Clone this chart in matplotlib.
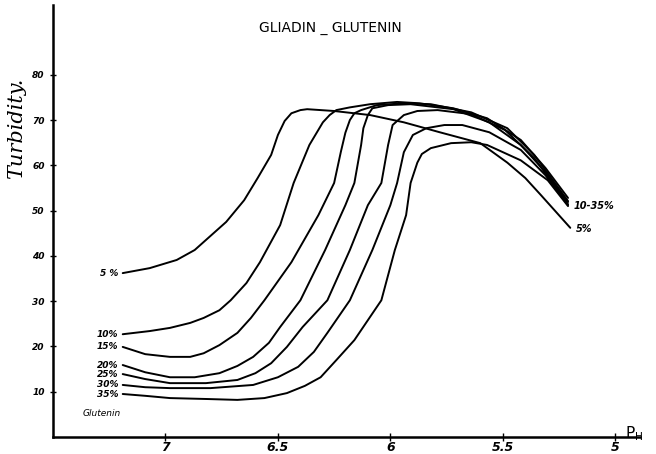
import matplotlib
matplotlib.use("Agg")
import matplotlib.pyplot as plt

# pH / turbidity readings for each glutenin concentration
ph_5 = [7.19, 7.07, 6.95, 6.87, 6.73, 6.65, 6.59, 6.53, 6.50, 6.47, 6.44, 6.40, 6.37, 6.25, 6.09,
        5.94, 5.78, 5.60, 5.48, 5.40, 5.33, 5.20]
t_5 = [36.2, 37.3, 39.1, 41.3, 47.5, 52.3, 57.2, 62.3, 66.7, 69.8, 71.5, 72.2, 72.4, 72.0, 71.1,
       69.5, 67.3, 64.9, 60.6, 57.2, 53.4, 46.2]

ph_10 = [7.19, 7.07, 6.98, 6.89, 6.83, 6.76, 6.71, 6.64, 6.58, 6.49, 6.43, 6.36, 6.30, 6.27, 6.24,
         6.18, 6.09, 5.97, 5.87, 5.72, 5.57, 5.42, 5.31, 5.21]
t_10 = [22.7, 23.4, 24.1, 25.2, 26.3, 28.0, 30.2, 34.0, 38.6, 46.8, 56.1, 64.5, 69.5, 71.1, 72.2,
        72.8, 73.5, 74.0, 73.7, 72.6, 70.4, 65.6, 59.4, 52.8]

ph_15 = [7.19, 7.09, 6.98, 6.89, 6.83, 6.76, 6.68, 6.62, 6.56, 6.44, 6.32, 6.25, 6.22, 6.20, 6.18,
         6.16, 6.13, 6.06, 5.94, 5.82, 5.64, 5.48, 5.36, 5.21]
t_15 = [19.9, 18.3, 17.7, 17.7, 18.5, 20.3, 23.0, 26.3, 30.2, 38.6, 49.0, 56.1, 63.0, 67.2, 70.0,
        71.5, 72.2, 73.3, 73.7, 73.5, 71.7, 68.2, 62.3, 52.1]

ph_20 = [7.19, 7.09, 6.98, 6.87, 6.76, 6.68, 6.61, 6.54, 6.49, 6.40, 6.29, 6.20, 6.16, 6.13, 6.12,
         6.10, 6.08, 6.01, 5.91, 5.72, 5.56, 5.42, 5.31, 5.21]
t_20 = [15.9, 14.3, 13.2, 13.2, 14.1, 15.7, 17.7, 20.8, 24.3, 30.2, 41.3, 51.2, 56.1, 64.5, 68.2,
        71.1, 72.6, 73.3, 73.5, 72.4, 69.5, 64.5, 58.5, 51.9]

ph_25 = [7.19, 7.09, 6.98, 6.82, 6.68, 6.60, 6.53, 6.46, 6.39, 6.28, 6.18, 6.10, 6.04, 6.01, 5.99,
         5.94, 5.88, 5.79, 5.64, 5.49, 5.36, 5.21]
t_25 = [13.9, 12.8, 11.9, 11.9, 12.6, 14.1, 16.3, 19.9, 24.3, 30.2, 41.3, 51.2, 56.1, 64.5, 68.9,
        71.1, 72.0, 72.2, 71.3, 67.8, 61.6, 51.4]

ph_30 = [7.19, 7.09, 6.98, 6.80, 6.61, 6.50, 6.41, 6.34, 6.28, 6.18, 6.08, 6.00, 5.97, 5.94, 5.90,
         5.84, 5.76, 5.68, 5.56, 5.42, 5.31, 5.21]
t_30 = [11.5, 11.0, 10.8, 10.8, 11.5, 13.2, 15.5, 18.8, 23.0, 30.2, 41.3, 51.2, 56.1, 62.9, 66.7,
        68.2, 68.9, 68.9, 67.3, 63.4, 57.8, 51.2]

ph_35 = [7.19, 7.09, 6.98, 6.82, 6.68, 6.56, 6.46, 6.38, 6.31, 6.24, 6.16, 6.10, 6.04, 5.98, 5.93,
         5.91, 5.88, 5.86, 5.82, 5.73, 5.64, 5.57, 5.42, 5.30, 5.21]
t_35 = [9.5, 9.1, 8.6, 8.4, 8.2, 8.6, 9.7, 11.3, 13.2, 17.0, 21.4, 25.8, 30.2, 41.3, 49.0,
        56.1, 60.6, 62.5, 63.8, 64.9, 65.1, 64.5, 61.1, 56.7, 51.0]

curves = [
    (ph_5, t_5, "5 %"),
    (ph_10, t_10, "10%"),
    (ph_15, t_15, "15%"),
    (ph_20, t_20, "20%"),
    (ph_25, t_25, "25%"),
    (ph_30, t_30, "30%"),
    (ph_35, t_35, "35%"),
]

x_ticks = [7, 6.5, 6, 5.5, 5]
x_tick_labels = ["7", "6.5", "6", "5.5", "5"]
y_ticks = [10, 20, 30, 40, 50, 60, 70, 80]
y_tick_labels = ["10", "20", "30", "40", "50", "60", "70", "80"]

fig = plt.figure(figsize=(6.56, 4.54), dpi=100)
ax = fig.add_axes([0.0808, 0.0374, 0.8948, 0.9515])

for ph, t, lab in curves:
    ax.plot(ph, t, color="black", lw=1.4, solid_joinstyle="round", solid_capstyle="round")
    ax.annotate(lab, (ph[0], t[0]), xytext=(-3, 0), textcoords="offset points",
                ha="right", va="center", fontsize=6.5, style="italic", fontweight="bold")

# right-hand end labels
ax.annotate("10-35%", (ph_10[-1], t_25[-1]), xytext=(4, -1), textcoords="offset points",
            ha="left", va="center", fontsize=7, style="italic", fontweight="bold")
ax.annotate("5%", (ph_5[-1], t_5[-1]), xytext=(4, -1), textcoords="offset points",
            ha="left", va="center", fontsize=7, style="italic", fontweight="bold")

ax.text(7.37, 5.3, "Glutenin", fontsize=6.5, style="italic", ha="left", va="center")

ax.set_xlim(7.5, 4.89)
ax.set_ylim(0, 95.4)

ax.set_xticks(x_ticks)
ax.set_xticklabels(x_tick_labels, fontsize=9, fontweight="bold", style="italic")
ax.set_yticks(y_ticks)
ax.set_yticklabels(y_tick_labels, fontsize=6.5, style="italic", fontweight="bold")
ax.tick_params(axis="x", direction="inout", length=6, width=1, pad=0)
ax.tick_params(axis="y", direction="inout", length=4, width=1, pad=4)

for side in ["top", "right"]:
    ax.spines[side].set_visible(False)
ax.spines["left"].set_linewidth(1.8)
ax.spines["bottom"].set_linewidth(1.8)

ax.text(4.955, 0.8, r"$\mathsf{P_H}$", fontsize=11, fontweight="bold", ha="left", va="center",
        clip_on=False)

fig.text(0.503, 0.938, "GLIADIN _ GLUTENIN", fontsize=10, ha="center", va="center")
fig.text(0.025, 0.718, "Turbidity.", rotation=90, fontsize=15, family="DejaVu Serif",
         style="italic", ha="center", va="center")

fig.savefig("out.png", dpi=100)
